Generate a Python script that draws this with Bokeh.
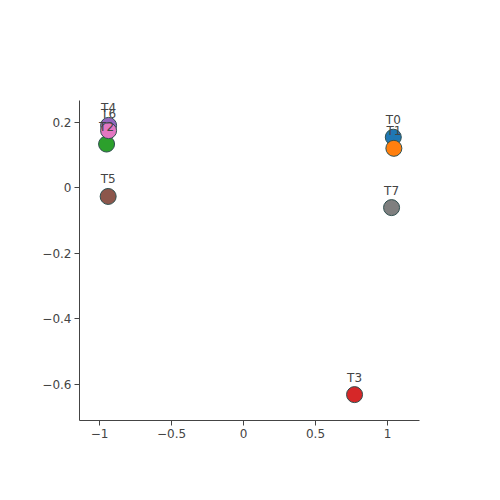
from bokeh.plotting import figure
from bokeh.models import ColumnDataSource, Range1d, FixedTicker
from bokeh.embed import file_html
from bokeh.resources import INLINE
from bokeh.core.properties import value

labels = ["T0", "T1", "T2", "T3", "T4", "T5", "T6", "T7"]
xs = [1.04, 1.044, -0.951, 0.771, -0.937, -0.94, -0.937, 1.028]
ys = [0.154, 0.12, 0.133, -0.632, 0.19, -0.027, 0.174, -0.061]
colors = ["#1f77b4", "#ff7f0e", "#2ca02c", "#d62728", "#9467bd", "#8c564b", "#e377c2", "#7f7f7f"]

x_ticks = [-1, -0.5, 0, 0.5, 1]
x_tick_labels = ["\u22121", "\u22120.5", "0", "0.5", "1"]
y_ticks = [-0.6, -0.4, -0.2, 0, 0.2]
y_tick_labels = ["\u22120.6", "\u22120.4", "\u22120.2", "0", "0.2"]

src = ColumnDataSource(dict(x=xs, y=ys, label=labels, color=colors))

p = figure(width=484, height=484, output_backend="svg", toolbar_location=None,
           x_range=Range1d(-1.139, 1.222), y_range=Range1d(-0.711, 0.266),
           min_border_left=79, min_border_right=65, min_border_top=100, min_border_bottom=64)
p.outline_line_color = None
p.xgrid.visible = False
p.ygrid.visible = False
p.background_fill_color = "white"
p.border_fill_color = "white"

p.scatter("x", "y", source=src, size=16, fill_color="color", line_color="#2f4f4f", line_width=1)
p.text("x", "y", text="label", source=src, text_align="center", text_baseline="bottom",
       y_offset=-10, text_font=value("DejaVu Sans"), text_font_size="12px", text_color="#444444")

for ax, ticks, labs in ((p.xaxis[0], x_ticks, x_tick_labels), (p.yaxis[0], y_ticks, y_tick_labels)):
    ax.ticker = FixedTicker(ticks=ticks)
    ax.major_label_overrides = {t: l for t, l in zip(ticks, labs)}
    ax.minor_tick_line_color = None
    ax.major_tick_in = 0
    ax.major_tick_out = 5
    ax.major_tick_line_color = "#444444"
    ax.axis_line_color = "#444444"
    ax.major_label_text_font = "DejaVu Sans"
    ax.major_label_text_font_size = "12px"
    ax.major_label_text_color = "#444444"
    ax.major_label_standoff = 3

open("out.html", "w").write(file_html(p, INLINE))
